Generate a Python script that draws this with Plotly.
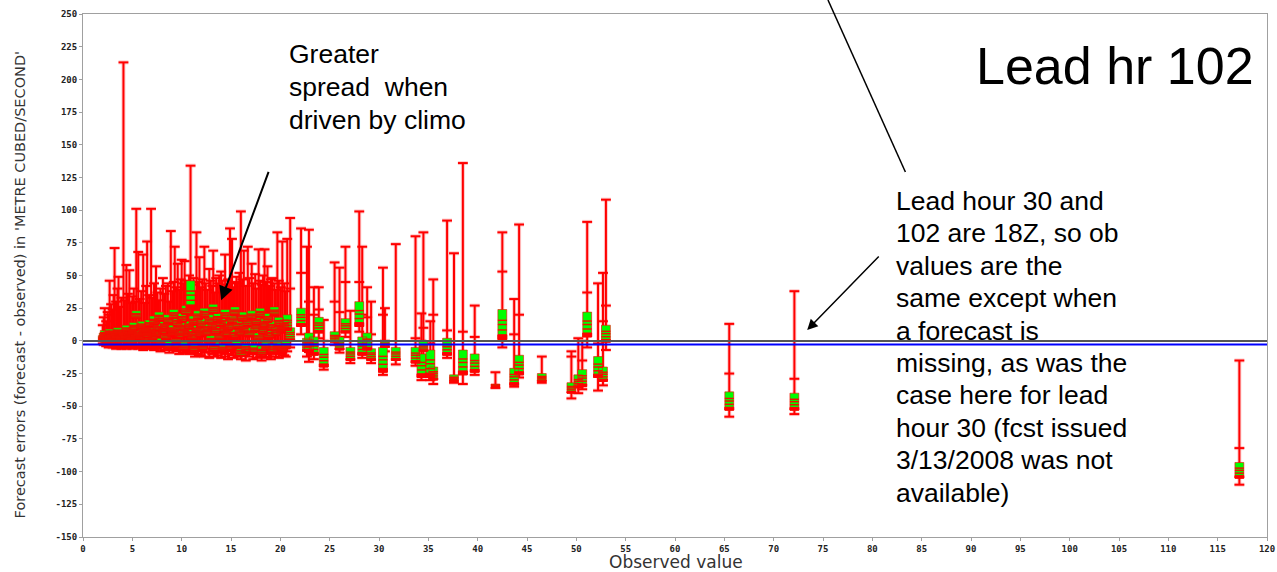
import plotly.graph_objects as go

# Forecast-error spread per observed flow value (METRE CUBED/SECOND), lead hour 102.
# Dense glyphs: low observed values where forecasts lean on climatology.
obs_dense = [2.0, 2.1, 2.2, 2.35, 2.5, 2.6, 2.7, 2.85, 3.0, 3.1,
             3.2, 3.35, 3.5, 3.6, 3.75, 3.9, 4.1, 4.25, 4.4, 4.55,
             4.7, 4.85, 5.0, 5.15, 5.3, 5.4, 5.6, 5.75, 5.9, 6.1,
             6.25, 6.4, 6.5, 6.7, 6.9, 7.05, 7.2, 7.4, 7.55, 7.7,
             7.85, 8.1, 8.25, 8.4, 8.6, 8.75, 8.9, 9.05, 9.2, 9.3,
             9.45, 9.6, 9.75, 9.9, 10.0, 10.15, 10.3, 10.45, 10.6, 10.75,
             10.9, 11.05, 11.2, 11.35, 11.5, 11.65, 11.8, 11.95, 12.1, 12.3,
             12.45, 12.6, 12.8, 12.95, 13.1, 13.2, 13.35, 13.5, 13.65, 13.8,
             14.0, 14.15, 14.3, 14.4, 14.55, 14.7, 14.9, 15.1, 15.25, 15.4,
             15.55, 15.7, 15.85, 16.0, 16.15, 16.3, 16.5, 16.7, 16.85, 17.1,
             17.25, 17.45, 17.6, 17.8, 17.95, 18.1, 18.25, 18.4, 18.55, 18.7,
             18.85, 19.05, 19.2, 19.4, 19.55, 19.7, 19.85, 20.05, 20.2, 20.4,
             20.55, 20.7]
min_dense = [-2, -3, -2, -4, -3, -5, -3, -4, -5, -3,
             -4, -6, -4, -5, -3, -6, -5, -4, -6, -3,
             -5, -4, -6, -3, -5, -4, -6, -4, -5, -7,
             -4, -6, -5, -3, -6, -4, -7, -5, -6, -4,
             -8, -5, -7, -4, -6, -9, -5, -7, -6, -4,
             -8, -6, -10, -5, -7, -9, -6, -8, -5, -10,
             -7, -6, -9, -12, -7, -10, -6, -11, -8, -12,
             -9, -6, -13, -8, -10, -7, -12, -9, -11, -8,
             -13, -9, -7, -12, -10, -14, -8, -11, -13, -9,
             -7, -12, -10, -14, -9, -11, -15, -8, -12, -10,
             -14, -9, -13, -8, -12, -15, -10, -9, -13, -8,
             -12, -14, -10, -9, -12, -8, -13, -10, -9, -11,
             -12, -8]
q1_dense = [0, 1, 3, -1, 2, 0, 4, 1, -2, 3,
            1, 0, 5, 2, -1, 3, 2, 0, 6, 1,
            3, -2, 4, 8, 1, 17, 3, 0, 9, 4,
            -3, 6, 2, 10, 5, 0, 12, 3, 7, 15,
            -4, 5, 9, 1, 13, -6, 6, 3, 17, 4,
            -5, 11, 2, 8, 14, -7, 5, 20, 3, 9,
            24, 1, 12, -8, 6, 16, 3, 10, -7, 18,
            4, 7, 13, -2, 9, 21, -8, 5, 14, 1,
            11, -8, 6, 17, 3, 8, -7, 13, 2, 19,
            -6, 9, 4, -12, 15, 6, -9, 11, 3, 16,
            -10, 7, 12, 0, 18, -11, 5, 10, -7, 14,
            2, 8, -9, 19, 4, -7, 11, 6, -8, 8,
            -6, 8]
q3_dense = [4, 6, 8, 4, 7, 5, 9, 6, 3, 8,
            7, 5, 10, 7, 4, 8, 8, 5, 12, 7,
            8, 4, 10, 14, 6, 23, 9, 6, 15, 10,
            3, 12, 8, 16, 11, 6, 19, 9, 13, 22,
            2, 11, 15, 7, 20, 0, 12, 9, 24, 10,
            1, 18, 8, 14, 21, -1, 11, 27, 9, 15,
            46, 7, 19, -2, 12, 23, 9, 17, -2, 25,
            10, 13, 20, 4, 16, 28, -1, 12, 21, 7,
            18, -3, 13, 24, 10, 15, -2, 20, 9, 26,
            0, 16, 11, -5, 22, 13, -2, 18, 10, 23,
            -3, 14, 19, 6, 25, -4, 12, 17, -1, 21,
            9, 15, -2, 26, 11, -1, 18, 13, -3, 16,
            0, 20]
max_dense = [12, 18, 25, 15, 22, 20, 46, 28, 24, 35,
             71, 30, 40, 49, 26, 33, 213, 31, 58, 36,
             54, 29, 34, 40, 30, 101, 68, 32, 38, 66,
             29, 42, 76, 35, 101, 33, 44, 57, 37, 31,
             40, 48, 36, 42, 44, 30, 84, 38, 45, 72,
             41, 59, 39, 47, 62, 44, 61, 46, 40, 50,
             134, 43, 48, 38, 83, 45, 64, 41, 47, 72,
             44, 39, 55, 46, 42, 69, 37, 48, 44, 50,
             53, 46, 40, 66, 43, 47, 86, 78, 41, 45,
             49, 44, 52, 99, 47, 69, 42, 72, 48, 59,
             44, 51, 40, 70, 46, 43, 50, 70, 45, 57,
             42, 47, 48, 44, 39, 83, 46, 41, 76, 44,
             38, 78]

# Scattered glyphs: higher observed values.
obs_sparse = [21.0, 22.1, 22.9, 22.7, 23.4, 23.9, 24.4, 25.5, 26.0, 26.6, 27.1, 28.0, 28.3, 28.8,
              29.2, 30.4, 30.6, 31.7, 33.7, 34.3, 34.5, 35.2, 35.5, 36.9, 37.6, 38.5, 39.7, 41.8,
              42.5, 43.7, 44.2, 46.5, 49.5, 50.2, 50.6, 51.1, 52.2, 52.7, 53.0, 65.5, 72.1, 117.2]
min_sparse = [-5, 5, -16, -12, -14, 2, -22, -3, -9, 3, -17, 7, -13, -9,
              -17, -26, -8, -18, -19, -30, -12, -30, -33, -13, -32, -33, -26, -36,
              -5, -35, -28, -32, -44, -40, -37, -5, -38, -34, -7, -58, -56, -110]
q1_sparse = [0, 11, -9, -8, -11, 6, -20, -1, -7, 6, -15, 11, -11, -7,
             -15, -24, -5, -15, -17, -28, -8, -28, -30, -11, -31, -26, -24, -35,
             1, -34, -26, -31, -40, -36, -35, 3, -28, -31, -1, -53, -53, -105]
q3_sparse = [10, 25, 6, 2, 3, 18, -5, 7, 3, 17, -5, 30, 3, 6,
             -6, -5, 0, -5, -5, -10, 0, -7, -20, 2, -26, -7, -10, -33,
             24, -21, -11, -25, -32, -26, -22, 22, -12, -20, 12, -39, -40, -93]
max_sparse = [94, 86, 85, 72, 41, 41, 16, 60, 56, 72, 23, 99, 72, 41,
              30, 56, 25, 74, 80, 21, 83, 15, 47, 92, 67, 136, 27, -24,
              83, 32, 89, -12, -8, 2, 0, 91, 44, 52, 108, 13, 38, -15]
tick_sparse = [40, 52, 30, None, 20, 24, 0, 30, 22, 45, None, 45, 20, 18,
               5, 20, 0, None, 2, 0, 10, -2, 20, 8, None, 7, 3, None,
               53, 5, 20, None, -12, None, -15, 37, -2, 15, 27, -25, -29, -82]

mean_error = -2.8

x_tick_vals = list(range(0, 121, 5))
x_tick_text = [str(v) for v in x_tick_vals]
y_tick_vals = list(range(-150, 251, 25))
y_tick_text = [str(v) for v in y_tick_vals]

obs = obs_dense + obs_sparse
lo = min_dense + min_sparse
q1 = q1_dense + q1_sparse
q3 = q3_dense + q3_sparse
hi = max_dense + max_sparse

CAP = 0.5   # half width of whisker caps, in x units
BOX = 0.45  # half width of boxes

# whiskers
wx, wy = [], []
for x, a, b in zip(obs, lo, hi):
    wx += [x, x, None]
    wy += [a, b, None]

# caps and whisker ticks
cx, cy = [], []
for x, a, b in zip(obs, lo, hi):
    for v in (a, b):
        cx += [x - CAP, x + CAP, None]
        cy += [v, v, None]
for x, t in zip(obs_sparse, tick_sparse):
    if t is not None:
        cx += [x - CAP, x + CAP, None]
        cy += [t, t, None]

# green boxes, a red band at the bottom and red stripes across
bx, by = [], []
rx, ry = [], []
sx, sy = [], []
for x, a, b in zip(obs, q1, q3):
    h = b - a
    bx += [x - BOX, x + BOX, x + BOX, x - BOX, x - BOX, None]
    by += [a, a, b, b, a, None]
    top = a + 0.16 * h
    rx += [x - BOX, x + BOX, x + BOX, x - BOX, x - BOX, None]
    ry += [a, a, top, top, a, None]
    for f in (0.32, 0.5, 0.64):
        sx += [x - BOX, x + BOX, None]
        sy += [a + f * h, a + f * h, None]

fig = go.Figure()
fig.add_trace(go.Scatter(x=wx + cx, y=wy + cy, mode="lines",
                         line=dict(color="rgba(255,140,140,0.45)", width=4),
                         hoverinfo="skip"))
fig.add_trace(go.Scatter(x=wx, y=wy, mode="lines",
                         line=dict(color="#ff0000", width=2), hoverinfo="skip"))
fig.add_trace(go.Scatter(x=cx, y=cy, mode="lines",
                         line=dict(color="#ff0000", width=2), hoverinfo="skip"))
fig.add_trace(go.Scatter(x=bx, y=by, mode="lines", fill="toself", fillcolor="#00ff00",
                         line=dict(color="rgba(255,0,0,0.6)", width=1), hoverinfo="skip"))
fig.add_trace(go.Scatter(x=rx, y=ry, mode="lines", fill="toself", fillcolor="#ff0000",
                         line=dict(color="#ff0000", width=1), hoverinfo="skip"))
fig.add_trace(go.Scatter(x=sx, y=sy, mode="lines",
                         line=dict(color="#f01000", width=1.5), hoverinfo="skip"))

# zero line and mean error line
fig.add_shape(type="line", xref="paper", x0=0, x1=1, yref="y", y0=0, y1=0,
              line=dict(color="#555555", width=2))
fig.add_shape(type="line", xref="paper", x0=0, x1=1, yref="y", y0=mean_error, y1=mean_error,
              line=dict(color="#0000ff", width=2))

# pointer line entering from above
fig.add_shape(type="line", xref="paper", yref="paper",
              x0=0.6292, y0=1.0268, x1=0.6946, y1=0.6979,
              line=dict(color="black", width=1.5))

tick_font = dict(family="DejaVu Sans Mono", size=9, color="#222222", weight="bold")
axis_common = dict(showline=True, linecolor="#a0a0a0", linewidth=1, mirror=True,
                   ticks="outside", ticklen=3, tickcolor="#a0a0a0", showgrid=False,
                   zeroline=False, tickfont=tick_font, ticklabeloverflow="allow")

fig.update_layout(
    width=1277, height=572,
    margin=dict(l=83, r=2, t=14, b=35),
    paper_bgcolor="white", plot_bgcolor="white",
    showlegend=False,
    xaxis=dict(range=[0, 120], tickmode="array", tickvals=x_tick_vals,
               ticktext=x_tick_text, **axis_common),
    yaxis=dict(range=[-150, 250], tickmode="array", tickvals=y_tick_vals,
               ticktext=y_tick_text, **axis_common),
)

label_font = dict(family="DejaVu Sans", size=14.5, color="#333333")
fig.add_annotation(text="Forecast errors (forecast - observed) in 'METRE CUBED/SECOND'",
                   xref="paper", yref="paper", x=-0.0529, y=0.4818, textangle=-90,
                   showarrow=False, xanchor="center", yanchor="middle", font=label_font)
fig.add_annotation(text="Observed value", xref="paper", yref="paper", x=0.5008,
                   y=(537 - 573) / 523, showarrow=False, xanchor="center",
                   yanchor="bottom", borderpad=0,
                   font=dict(family="DejaVu Sans", size=17, color="#333333"))

note_font = dict(family="Liberation Sans", size=26.5, color="black")


def note_lines(lines, x_px, y_px, step):
    for i, line in enumerate(lines):
        fig.add_annotation(text=line, xref="paper", yref="paper",
                           x=(x_px - 83) / 1192, y=(537 - (y_px + i * step)) / 523,
                           xanchor="left", yanchor="middle", showarrow=False,
                           font=note_font)


fig.add_annotation(text="Lead hr 102", xref="paper", yref="paper",
                   x=(1264 - 83) / 1192, y=(537 - 66) / 523, xanchor="right",
                   yanchor="middle", showarrow=False,
                   font=dict(family="Liberation Sans", size=52, color="black"))

note_lines(["Greater", "spread\u00a0 when", "driven by climo"], 288, 54, 33)
note_lines(["Lead hour 30 and", "102 are 18Z, so ob", "values are the",
            "same except when", "a forecast is", "missing, as was the",
            "case here for lead", "hour 30 (fcst issued", "3/13/2008 was not",
            "available)"], 899, 201, 32.4)

# arrows
fig.add_annotation(x=14.0, y=31.0, xref="x", yref="y", ax=48, ay=-130, text="",
                   showarrow=True, arrowhead=2, arrowsize=1.4, arrowwidth=2,
                   arrowcolor="black")
fig.add_annotation(x=73.4, y=8.3, xref="x", yref="y", ax=73, ay=-75, text="",
                   showarrow=True, arrowhead=2, arrowsize=1.4, arrowwidth=1.5,
                   arrowcolor="black")

fig.write_html("out.html")
